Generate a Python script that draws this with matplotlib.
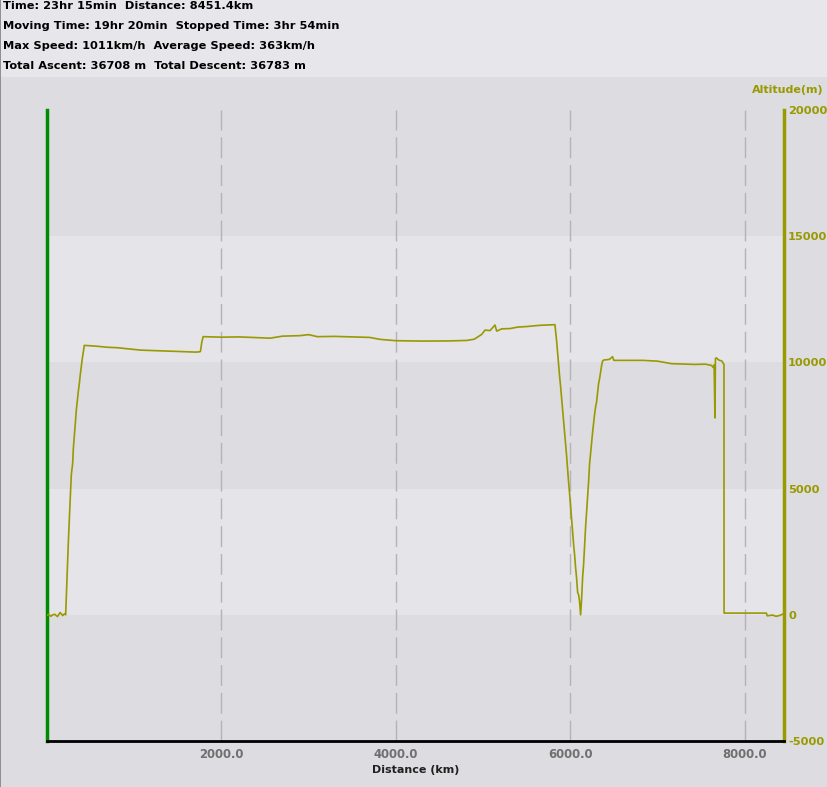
import matplotlib
matplotlib.use('Agg')
import matplotlib.pyplot as plt
from matplotlib.patches import Rectangle

W, H = 828, 787

# summary lines at top
summary_lines = ['Time: 23hr 15min  Distance: 8451.4km',
                 'Moving Time: 19hr 20min  Stopped Time: 3hr 54min',
                 'Max Speed: 1011km/h  Average Speed: 363km/h',
                 'Total Ascent: 36708 m  Total Descent: 36783 m']

# altitude profile
dist_km = [0, 20, 45, 60, 90, 120, 150, 180, 200, 214,
           222, 234, 245, 257, 268, 279, 294, 302, 314, 325, 337, 348, 359, 371, 382, 394, 405, 417, 428,
           557, 691, 806, 1073, 1378, 1703, 1752, 1760, 1775, 1791,
           1900, 2000, 2200, 2400, 2560, 2700, 2900, 3000, 3100, 3300, 3500, 3700, 3821,
           4000, 4300, 4600, 4814, 4900, 4985, 5023, 5080, 5137, 5157, 5214, 5309, 5400, 5500, 5653, 5800, 5825,
           5844, 5856, 5867, 5878, 5890, 5901, 5913, 5924, 5936, 5947, 5959, 5970, 5981, 5993, 6004, 6016,
           6027, 6039, 6050, 6062, 6073, 6085, 6096, 6107, 6119,
           6130, 6142, 6153, 6165, 6176, 6188, 6199, 6211, 6222, 6233, 6245, 6256, 6268, 6279, 6291, 6302,
           6314, 6325, 6337, 6348, 6360, 6371, 6382,
           6450, 6485, 6500, 6836, 7000, 7161, 7428, 7550, 7620, 7640, 7650, 7660, 7665, 7676, 7700, 7740, 7763,
           7764, 8249, 8260, 8320, 8360, 8400, 8438, 8451]
alt_m = [-20, 10, -60, -10, 20, -70, 90, -30, 40, 0,
         782, 1905, 2909, 3809, 4722, 5555, 5992, 6587, 7115, 7631, 8134, 8491, 8849, 9166, 9523, 9853, 10158, 10436, 10674,
         10646, 10600, 10582, 10487, 10448, 10408, 10420, 10440, 10800, 11020,
         11010, 11000, 11010, 10980, 10960, 11040, 11060, 11100, 11020, 11030, 11010, 10990, 10912,
         10860, 10845, 10850, 10870, 10920, 11110, 11281, 11260, 11480, 11240, 11330, 11340, 11400, 11420, 11470, 11495, 11495,
         10845, 10345, 9920, 9456, 9035, 8599, 8162, 7738, 7210, 6734, 6282, 5754, 5266, 4789, 4297, 3770,
         3214, 2778, 2381, 1853, 1456, 885, 794, 528, 0,
         595, 1480, 1984, 2778, 3464, 4099, 4694, 5289, 5980, 6389, 6813, 7210, 7579, 7936, 8242, 8424,
         8797, 9154, 9364, 9614, 9880, 10051, 10091,
         10120, 10226, 10080, 10080, 10050, 9950, 9920, 9930, 9880, 9800, 9900, 7800, 10150, 10180, 10100, 10050, 9920,
         67, 67, -40, -10, -60, -30, 30, 20]

x_ticks = [2000, 4000, 6000, 8000]
y_ticks = [-5000, 0, 5000, 10000, 15000, 20000]

olive = '#999900'
band_dark = '#dcdce1'
band_light = '#e4e4e9'

fig = plt.figure(figsize=(W / 100, H / 100), dpi=100)
fig.patch.set_facecolor(band_dark)
# light strip behind the summary text
fig.patches.append(Rectangle((0, 1 - 77 / H), 1, 77 / H, transform=fig.transFigure,
                             facecolor='#e6e6eb', edgecolor='none', zorder=0))
fig.patches.append(Rectangle((0, 0), 1.5 / W, 1, transform=fig.transFigure,
                             facecolor='#909090', edgecolor='none', zorder=1))

for i, line in enumerate(summary_lines):
    fig.text(3 / W, 1 - (6 + 20 * i) / H, line, fontsize=8.2, fontweight='bold',
             color='black', va='center', ha='left')

ax = fig.add_axes([47 / W, 1 - 741 / H, (784 - 47) / W, (741 - 110) / H])
ax.set_facecolor(band_dark)

# alternating horizontal bands
for k, lo in enumerate(range(-5000, 20000, 5000)):
    ax.axhspan(lo, lo + 5000, color=band_dark if k % 2 == 0 else band_light, lw=0, zorder=0)

for xt in x_ticks:
    ax.axvline(xt, color='#b4b4b4', lw=1, dashes=(15, 5), zorder=1)

ax.plot(dist_km, alt_m, color=olive, lw=1.2, zorder=3)

ax.set_xlim(0, 8451.4)
ax.set_ylim(-5000, 20000)

ax.set_xticks(x_ticks)
ax.set_xticklabels([f'{t:.1f}' for t in x_ticks])
ax.tick_params(axis='x', length=0, pad=5, labelsize=8.4, labelcolor='#707070')
for lab in ax.get_xticklabels():
    lab.set_fontweight('bold')

ax.yaxis.tick_right()
ax.set_yticks(y_ticks)
ax.set_yticklabels([str(t) for t in y_ticks])
ax.tick_params(axis='y', length=0, pad=3, labelsize=8.2, labelcolor=olive)
for lab in ax.get_yticklabels():
    lab.set_fontweight('bold')

ax.spines['top'].set_visible(False)
ax.spines['left'].set_color('#008c00')
ax.spines['left'].set_linewidth(2.5)
ax.spines['right'].set_color(olive)
ax.spines['right'].set_linewidth(2.5)
ax.spines['bottom'].set_color('black')
ax.spines['bottom'].set_linewidth(2)

ax.set_xlabel('Distance (km)', fontsize=8, fontweight='bold', color='#202020', labelpad=3)
fig.text(824 / W, 1 - 90 / H, 'Altitude(m)', fontsize=8, fontweight='bold', color=olive,
         ha='right', va='center')

fig.savefig('out.png', dpi=100, facecolor=fig.get_facecolor())
